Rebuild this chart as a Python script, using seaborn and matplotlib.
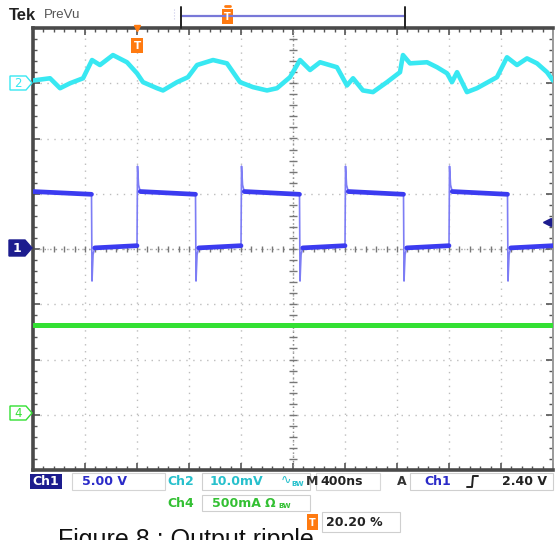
import numpy as np
import pandas as pd
import matplotlib
matplotlib.use("Agg")
import matplotlib.pyplot as plt
import matplotlib.transforms as mtransforms
from matplotlib.lines import Line2D
from matplotlib.patches import Rectangle, Polygon
import seaborn as sns

# ---------------- data ----------------
T_DIV_NS = 400          # M 400ns
CH1_V_DIV = 5.0         # Ch1 5.00 V
CH2_MV_DIV = 10.0       # Ch2 10.0 mV
CH4_A_DIV = 0.5         # Ch4 500 mA
TRIG_LEVEL_V = 2.40
TRIG_POS_PCT = 20.20

ch1_rise_ns = [0, 800, 1600, 2400]
ch1_fall_ns = [-350, 450, 1250, 2050, 2850]
ch1_high_v = [5.2, 4.95]       # start / end of high plateau
ch1_low_v = [0.1, 0.3]         # start / end of low plateau
ch1_overshoot_v = 7.5
ch1_undershoot_v = -2.9

ch2_t_ns = [-800, -669, -592, -515, -415, -346, -285, -185, -77, 0, 46, 154, 200,
            308, 392, 462, 585, 692, 792, 892, 1000, 1077, 1177, 1254, 1331, 1408,
            1538, 1615, 1662, 1738, 1815, 1923, 2023, 2046, 2100, 2231, 2308, 2385,
            2423, 2462, 2538, 2615, 2769, 2846, 2923, 3000, 3077, 3154, 3200]
ch2_mv = [0.5, 0.9, -0.9, 0.0, 0.9, 4.2, 3.3, 5.1, 3.8, 1.8, 0.2, -0.9, -1.3,
          0.2, 1.1, 3.3, 4.2, 3.6, 0.2, -0.7, -1.3, -0.9, 1.1, 4.2, 2.4, 3.8,
          2.9, -0.4, 0.9, -1.3, -1.6, 0.2, 2.0, 5.1, 3.6, 3.8, 2.9, 1.8,
          0.2, 2.0, -1.6, -0.9, 1.1, 4.7, 3.3, 4.5, 3.6, 2.0, 0.5]

ch4_t_ns = [-800, 3200]
ch4_a = [0.81, 0.81]

# channel ground positions (divisions from screen centre)
ch1_pos_div, ch2_pos_div, ch4_pos_div = 0.0, 3.0, -3.0

status_ch1 = "5.00 V"
status_ch2 = "10.0mV"
status_ch4 = "500mA"
status_time = "400ns"
status_trig = "2.40 V"
status_pos = "20.20 %"
caption = "Figure 8 : Output ripple"

# ---------------- colours ----------------
C1 = "#3b3bf0"
C2 = "#38e8f2"
C4 = "#33e033"
ORANGE = "#ff7a10"
NAVY = "#1c1c8e"

sns.set_style("white")
plt.rcParams["font.family"] = ["DejaVu Sans"]

W, H = 556, 540
fig = plt.figure(figsize=(W / 100, H / 100), dpi=100)
fig.patch.set_facecolor("white")
L, R, TOP, BOT = 33, 553, 28, 470
ax = fig.add_axes([L / W, 1 - BOT / H, (R - L) / W, (BOT - TOP) / H])

t_left, t_right = -800, 3200
ax.set_xlim(t_left, t_right)
ax.set_ylim(-4, 4)

# ---------------- graticule ----------------
ax.set_xticks(np.arange(t_left, t_right + 1, T_DIV_NS))
ax.set_xticks(np.arange(t_left, t_right + 1, T_DIV_NS / 5), minor=True)
ax.set_yticks(np.arange(-4, 5, 1))
ax.set_yticks(np.arange(-4, 4.01, 0.2), minor=True)
ax.tick_params(which="both", direction="in", top=True, right=True, bottom=True, left=True,
               labelbottom=False, labelleft=False, colors="#555555")
ax.tick_params(which="major", length=5, width=1.2)
ax.tick_params(which="minor", length=3, width=1.0)
ax.grid(True, which="major", color="#bdbdbd", linestyle=(0, (1, 4)), linewidth=1.0)
for side in ["left", "top", "bottom"]:
    ax.spines[side].set_color("#4a4a4a")
    ax.spines[side].set_linewidth(2.6)
ax.spines["right"].set_color("#9a9a9a")
ax.spines["right"].set_linewidth(1.4)

tc = (t_left + t_right) / 2
ax.axhline(0, color="#9a9a9a", linestyle=(0, (1, 3)), lw=1.0, zorder=1)
ax.axvline(tc, color="#8a8a8a", linestyle=(0, (1, 2)), lw=1.0, zorder=1)
mx = np.arange(t_left, t_right + 1, T_DIV_NS / 5)
ax.plot(mx, np.zeros_like(mx), ls="none", marker="|", ms=5, mew=1.0, color="#777777", zorder=1)
my = np.arange(-4, 4.01, 0.2)
ax.plot(np.full_like(my, tc), my, ls="none", marker="_", ms=6, mew=1.0, color="#777777", zorder=1)

# ---------------- Ch4 (green) ----------------
df4 = pd.DataFrame({"t": ch4_t_ns, "y": np.array(ch4_a) / CH4_A_DIV + ch4_pos_div})
sns.lineplot(data=df4, x="t", y="y", ax=ax, color=C4, lw=3.6, estimator=None, sort=False, zorder=3)

# ---------------- Ch2 (cyan) ----------------
df2 = pd.DataFrame({"t": ch2_t_ns, "y": np.array(ch2_mv) / CH2_MV_DIV + ch2_pos_div})
sns.lineplot(data=df2, x="t", y="y", ax=ax, color=C2, lw=3.3, estimator=None, sort=False, zorder=3)

# ---------------- Ch1 (blue square wave) ----------------
events = sorted([(t, "r") for t in ch1_rise_ns] + [(t, "f") for t in ch1_fall_ns])
edge_rows, flat_rows = [], []
state = "h"
prev = t_left
seg = 0
for t, kind in events + [(t_right, "end")]:
    lv = ch1_high_v if state == "h" else ch1_low_v
    start = prev + (25 if prev != t_left else 0)
    flat_rows += [(seg, start, lv[0]), (seg, t, lv[1])]
    seg += 1
    if kind == "f":
        edge_rows += [(seg, t, ch1_high_v[1]), (seg, t + 4, ch1_undershoot_v),
                      (seg, t + 12, ch1_low_v[0] - 0.6), (seg, t + 25, ch1_low_v[0])]
        state = "l"
    elif kind == "r":
        edge_rows += [(seg, t, ch1_low_v[1]), (seg, t + 4, ch1_overshoot_v),
                      (seg, t + 12, ch1_high_v[0] + 0.6), (seg, t + 25, ch1_high_v[0])]
        state = "h"
    seg += 1
    prev = t

dfe = pd.DataFrame(edge_rows, columns=["seg", "t", "v"])
dfe["y"] = dfe["v"] / CH1_V_DIV + ch1_pos_div
dff = pd.DataFrame(flat_rows, columns=["seg", "t", "v"])
dff["y"] = dff["v"] / CH1_V_DIV + ch1_pos_div
sns.lineplot(data=dfe, x="t", y="y", units="seg", estimator=None, sort=False, ax=ax,
             color="#7d7df5", lw=1.2, zorder=4)
sns.lineplot(data=dff, x="t", y="y", units="seg", estimator=None, sort=False, ax=ax,
             color=C1, lw=3.4, zorder=4)

ax.set_xlabel("")
ax.set_ylabel("")

# trigger level marker (right edge)
ax.plot([t_right - 50], [TRIG_LEVEL_V / CH1_V_DIV + ch1_pos_div], marker="<", ms=6,
        color=NAVY, ls="none", zorder=6, clip_on=False)

# trigger position marker (top edge)
trans = mtransforms.blended_transform_factory(ax.transData, ax.transAxes)
ax.plot([0], [1.0], marker="v", ms=5, color=ORANGE, transform=trans, clip_on=False, zorder=7)
ax.text(0, 0.96, "T", transform=trans, ha="center", va="center", color="white",
        fontsize=7.5, fontweight="bold", zorder=7,
        bbox=dict(boxstyle="square,pad=0.25", fc=ORANGE, ec="none"))

# ---------------- figure decorations (pixel helpers) ----------------
def fx(px):
    return px / W


def fy(py):
    return 1 - py / H


def ftext(px, py, s, **kw):
    fig.text(fx(px), fy(py), s, **kw)


def fbox(x0, y0, x1, y1, **kw):
    fig.add_artist(Rectangle((fx(x0), fy(y1)), fx(x1) - fx(x0), fy(y0) - fy(y1),
                             transform=fig.transFigure, **kw))


def fline(xs, ys, **kw):
    fig.add_artist(Line2D([fx(x) for x in xs], [fy(y) for y in ys], transform=fig.transFigure, **kw))


# header
ftext(9, 15, "Tek", fontsize=12, fontweight="bold", color="#222222", va="center",
      family=["Liberation Sans", "DejaVu Sans"])
ftext(44, 15, "PreVu", fontsize=9.5, color="#555555", va="center",
      family=["Liberation Sans", "DejaVu Sans"])
fline([181, 405], [16, 16], color="#7878d8", lw=1.6)
fline([181, 181], [7, 28], color="#222222", lw=1.4)
fline([405, 405], [7, 28], color="#222222", lw=1.4)
fline([174, 174], [9, 20], color="#c8c8e8", lw=0.8, ls=":")
fbox(222, 9, 233, 24, fc=ORANGE, ec="none")
ftext(227.5, 17, "T", fontsize=7, color="white", fontweight="bold", ha="center", va="center")
fline([225, 230], [6, 6], color=ORANGE, lw=2)

# channel ground markers
fig.add_artist(Polygon([(fx(9), fy(240)), (fx(25), fy(240)), (fx(32), fy(248)),
                        (fx(25), fy(256)), (fx(9), fy(256))], closed=True,
                       transform=fig.transFigure, fc=NAVY, ec=NAVY))
ftext(17, 248.5, "1", fontsize=9, color="white", fontweight="bold", ha="center", va="center")
for yy, col, lab in [(83, C2, "2"), (413, C4, "4")]:
    fig.add_artist(Polygon([(fx(10), fy(yy - 7)), (fx(26), fy(yy - 7)), (fx(32), fy(yy)),
                            (fx(26), fy(yy + 7)), (fx(10), fy(yy + 7))], closed=True,
                           transform=fig.transFigure, fc="white", ec=col, lw=1.0))
    ftext(18, yy + 0.5, lab, fontsize=8.5, color=col, ha="center", va="center")

# status bar
SF = dict(fontsize=9, fontweight="bold", va="center")
fbox(30, 474, 62, 489, fc=NAVY, ec="none")
ftext(46, 481.5, "Ch1", color="white", ha="center", **SF)
fbox(72, 473, 165, 490, fc="none", ec="#d4d4d4", lw=0.8)
ftext(82, 481.5, status_ch1, color="#2a2ac8", **SF)
ftext(167, 481.5, "Ch2", color="#27c0cc", **SF)
fbox(202, 473, 310, 490, fc="none", ec="#cfcfcf", lw=0.8)
ftext(210, 481.5, status_ch2, color="#27c0cc", **SF)
ftext(281, 480, "\u223f", color="#27c0cc", fontsize=9, va="center")
ftext(291, 484, "BW", color="#27c0cc", fontsize=5, fontweight="bold", va="center")
ftext(167, 503.5, "Ch4", color="#33c033", **SF)
fbox(202, 495, 310, 511, fc="none", ec="#cfcfcf", lw=0.8)
ftext(212, 503.5, status_ch4, color="#33c033", **SF)
ftext(265, 503.5, "\u03a9", color="#33c033", **SF)
ftext(278, 506, "BW", color="#33c033", fontsize=5, fontweight="bold", va="center")
ftext(306, 481.5, "M", color="#333333", **SF)
fbox(316, 473, 380, 490, fc="none", ec="#d8d8d8", lw=0.8)
ftext(320, 481.5, status_time, color="#222222", **SF)
ftext(397, 481.5, "A", color="#333333", **SF)
fbox(410, 473, 553, 490, fc="none", ec="#cfcfcf", lw=0.8)
ftext(424, 481.5, "Ch1", color="#2a2ac8", **SF)
fline([467, 472, 473, 478], [487, 487, 476, 476], color="#222222", lw=1.4)
ftext(502, 481.5, status_trig, color="#222222", **SF)
fbox(307, 514, 318, 530, fc=ORANGE, ec="none")
ftext(312.5, 522.5, "T", fontsize=7, color="white", fontweight="bold", ha="center", va="center")
fbox(322, 512, 400, 532, fc="white", ec="#cfcfcf", lw=0.8)
ftext(326, 522.5, status_pos, color="#222222", **SF)

# caption (cut off by the bottom of the image, as in the screenshot)
ftext(58, 547, caption, fontsize=18, color="#111111", va="baseline",
      family=["Liberation Sans", "DejaVu Sans"])

fig.savefig("out.png", dpi=100, facecolor="white")
